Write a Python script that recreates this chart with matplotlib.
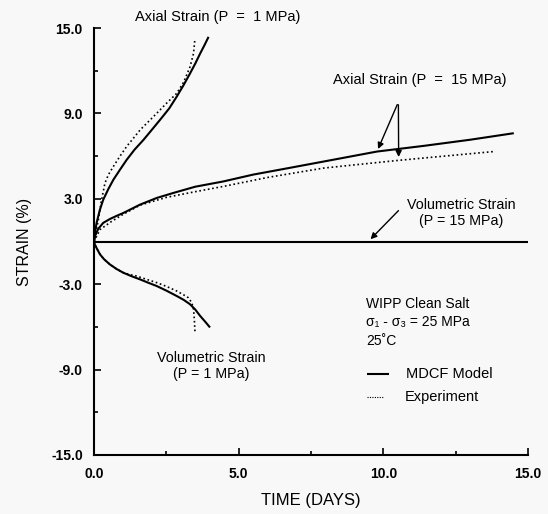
import numpy as np
import matplotlib
matplotlib.use("Agg")
from matplotlib import pyplot as plt

plt.rcParams['font.family'] = ['Liberation Sans', 'DejaVu Sans']

# Axial strain, P = 1 MPa
ax1_t_mod = [0, 0.03, 0.09, 0.2, 0.32, 0.5, 0.67, 0.9, 1.13, 1.4, 1.71, 2.0, 2.28,
             2.6, 2.86, 3.1, 3.32, 3.5, 3.67, 3.82, 3.96]
ax1_y_mod = [0, 0.6, 1.31, 2.2, 2.94, 3.7, 4.34, 5.05, 5.74, 6.45, 7.14, 7.85, 8.54,
             9.35, 10.18, 11.0, 11.81, 12.5, 13.21, 13.8, 14.38]
ax1_t_exp = [0, 0.15, 0.25, 0.38, 0.5, 0.67, 0.9, 1.13, 1.6, 2.17, 2.5, 2.86, 3.1,
             3.32, 3.44, 3.49]
ax1_y_exp = [0, 1.5, 2.8, 4.11, 4.7, 5.27, 6.0, 6.68, 7.85, 9.01, 9.7, 10.41, 11.2,
             12.28, 13.21, 14.26]

# Axial strain, P = 15 MPa
ax15_t_mod = [0, 0.05, 0.15, 0.32, 0.55, 0.78, 1.01, 1.59, 2.17, 2.74, 3.5, 4.47,
              5.5, 6.7, 7.94, 9.78, 11.4, 13.0, 14.51]
ax15_y_mod = [0, 0.45, 0.9, 1.31, 1.58, 1.8, 2.0, 2.59, 3.06, 3.41, 3.85, 4.22,
              4.7, 5.15, 5.62, 6.32, 6.72, 7.15, 7.61]
ax15_t_exp = [0, 0.21, 0.6, 1.0, 1.59, 2.5, 3.5, 4.47, 6.0, 7.94, 10.47, 12.0, 13.82]
ax15_y_exp = [0, 0.84, 1.4, 1.9, 2.55, 3.1, 3.5, 3.87, 4.5, 5.16, 5.69, 5.98, 6.32]

# Volumetric strain, P = 1 MPa
vol1_t_mod = [0, 0.03, 0.1, 0.21, 0.35, 0.55, 0.78, 1.01, 1.3, 1.59, 1.88, 2.17,
              2.5, 2.86, 3.1, 3.32, 3.5, 3.67, 3.85, 4.01]
vol1_y_mod = [0, -0.21, -0.5, -0.91, -1.25, -1.61, -1.93, -2.19, -2.44, -2.66, -2.9,
              -3.13, -3.45, -3.83, -4.1, -4.41, -4.78, -5.23, -5.65, -6.04]
vol1_t_exp = [0, 0.03, 0.1, 0.21, 0.35, 0.55, 0.78, 1.01, 1.25, 1.48, 1.8, 2.17,
              2.5, 2.86, 3.1, 3.26, 3.38, 3.44, 3.47, 3.49]
vol1_y_exp = [0, -0.21, -0.5, -0.91, -1.25, -1.61, -1.93, -2.19, -2.33, -2.43, -2.65,
              -2.89, -3.15, -3.48, -3.75, -3.95, -4.3, -4.76, -5.5, -6.39]

# Volumetric strain, P = 15 MPa
vol15_t = [0, 15]
vol15_y = [0, 0]

yticks = [15, 9, 3, -3, -9, -15]
yticklabels = ["15.0", "9.0", "3.0", "-3.0", "-9.0", "-15.0"]
xticks = [0, 5, 10, 15]
xticklabels = ["0.0", "5.0", "10.0", "15.0"]

bg = "#f8f8f8"
fig = plt.figure(figsize=(5.48, 5.14), dpi=100, facecolor=bg)
ax = fig.add_axes([0.1715, 0.1148, 0.792, 0.8307], facecolor=bg)

solid = dict(color="black", lw=1.5, solid_capstyle="butt", solid_joinstyle="round")
dotted = dict(color="black", lw=1.2, ls=(0, (1, 1.6)))

ax.plot(ax1_t_mod, ax1_y_mod, **solid)
ax.plot(ax1_t_exp, ax1_y_exp, **dotted)
ax.plot(ax15_t_mod, ax15_y_mod, **solid)
ax.plot(ax15_t_exp, ax15_y_exp, **dotted)
ax.plot(vol1_t_mod, vol1_y_mod, **solid)
ax.plot(vol1_t_exp, vol1_y_exp, **dotted)
ax.plot(vol15_t, vol15_y, **solid)
ax.plot(vol15_t, vol15_y, **dotted)

ax.set_xlim(0, 15)
ax.set_ylim(-15, 15)
ax.spines["top"].set_visible(False)
ax.spines["right"].set_visible(False)
ax.spines["left"].set_linewidth(1.5)
ax.spines["bottom"].set_linewidth(1.5)

ax.set_yticks(yticks)
ax.set_yticklabels(yticklabels, fontweight="bold", fontsize=10)
ax.set_yticks([12, 6, 0, -6, -12], minor=True)
ax.set_xticks(xticks)
ax.set_xticklabels(xticklabels, fontweight="bold", fontsize=10)
ax.set_xticks([2.5, 7.5, 12.5], minor=True)
ax.tick_params(which="both", direction="in", width=1.2)
ax.tick_params(which="major", length=5)
ax.tick_params(which="minor", length=3)
ax.tick_params(axis="y", pad=8)
ax.tick_params(axis="x", pad=9)

ax.set_xlabel("TIME (DAYS)", fontsize=12, labelpad=8)
ax.set_ylabel("STRAIN (%)", fontsize=11.5, labelpad=14)

ax.text(4.27, 15.76, "Axial Strain (P  =  1 MPa)", fontsize=10.5,
        ha="center", va="center")
ax.text(11.25, 11.34, "Axial Strain (P  =  15 MPa)", fontsize=10.5,
        ha="center", va="center")
ax.text(12.7, 2.03, "Volumetric Strain\n(P = 15 MPa)", fontsize=10.3,
        ha="center", va="center", linespacing=1.2)
ax.text(4.05, -8.75, "Volumetric Strain\n(P = 1 MPa)", fontsize=10.3,
        ha="center", va="center", linespacing=1.2)

ax.text(9.4, -4.41, "WIPP Clean Salt", fontsize=10, ha="left", va="center")
ax.text(9.4, -5.67, "\u03c3\u2081 - \u03c3\u2083 = 25 MPa", fontsize=10,
        ha="left", va="center")
ax.text(9.4, -7.0, "25\u02daC", fontsize=10, ha="left", va="center")

# legend drawn by hand like in the original figure
ax.plot([9.45, 10.2], [-9.33, -9.33], **solid)
ax.text(10.8, -9.33, "MDCF Model", fontsize=10.5, ha="left", va="center")
ax.plot([9.45, 10.0], [-10.95, -10.95], color="black", lw=0.8, ls=(0, (1, 1.2)))
ax.text(10.75, -10.95, "Experiment", fontsize=10.5, ha="left", va="center")

arrow = dict(arrowstyle="-|>", color="black", lw=1.0, mutation_scale=9)
ax.annotate("", xy=(9.78, 6.32), xytext=(10.52, 9.8), arrowprops=arrow)
ax.annotate("", xy=(10.53, 5.74), xytext=(10.52, 9.8), arrowprops=arrow)
ax.annotate("", xy=(9.49, 0.02), xytext=(10.59, 2.31), arrowprops=arrow)

fig.savefig("out.png", dpi=100, facecolor=bg)
